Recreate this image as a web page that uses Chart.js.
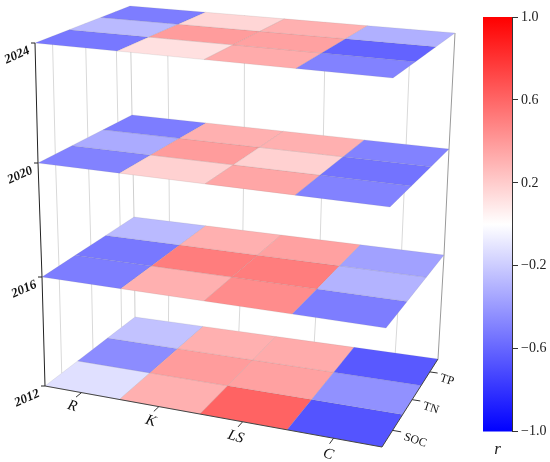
<!DOCTYPE html>
<html>
<head>
<meta charset="utf-8">
<script src="https://cdn.jsdelivr.net/npm/chart.js@4.4.0/dist/chart.umd.min.js"></script>
<style>
  html, body { margin: 0; padding: 0; background: #fff; }
  #wrap { position: relative; width: 550px; height: 462px; }
  #cubeBox { position: absolute; left: 0; top: 0; width: 470px; height: 462px; }
  #barBox { position: absolute; left: 470px; top: 0; width: 80px; height: 462px; }
</style>
</head>
<body>
<div id="wrap">
  <div id="cubeBox"><canvas id="cube"></canvas></div>
  <div id="barBox"><canvas id="bar"></canvas></div>
</div>
<script>
const factors = ['R', 'K', 'LS', 'C'];
const soilProps = ['SOC', 'TN', 'TP'];   // front row to back row
const years = ['2012', '2016', '2020', '2024'];

// correlation r, rows = SOC, TN, TP ; columns = R, K, LS, C
const r2012 = [
  [-0.12, 0.31, 0.61, -0.67],
  [-0.45, 0.39, 0.37, -0.43],
  [-0.24, 0.31, 0.33, -0.65]
];
const r2016 = [
  [-0.51, 0.31, 0.45, -0.51],
  [-0.53, 0.51, 0.51, -0.30],
  [-0.27, 0.31, 0.37, -0.37]
];
const r2020 = [
  [-0.49, 0.18, 0.35, -0.49],
  [-0.33, 0.39, 0.18, -0.55],
  [-0.51, 0.31, 0.31, -0.49]
];
const r2024 = [
  [-0.53, 0.12, 0.33, -0.49],
  [-0.27, 0.39, 0.37, -0.61],
  [-0.51, 0.16, 0.31, -0.31]
];
const planes = [r2012, r2016, r2020, r2024];
const cbTicks = [-1.0, -0.6, -0.2, 0.2, 0.6, 1.0];

// where each year plane sits on the page: front-left, front-right, back-right, back-left
const planeCorners = [
  [[45, 386], [382, 447], [438, 359], [135, 317]],
  [[42, 277], [386, 328], [444, 255], [134, 217]],
  [[38, 163], [390, 207], [449, 149], [132, 115]],
  [[35, 43], [393, 78], [455, 33], [130, 6]]
];

// perspective map of the unit square (u along factors, v along soil props) onto a plane
function squareToQuad(q) {
  const [[x0, y0], [x1, y1], [x2, y2], [x3, y3]] = q;
  const dx1 = x1 - x2, dx2 = x3 - x2, dx3 = x0 - x1 + x2 - x3;
  const dy1 = y1 - y2, dy2 = y3 - y2, dy3 = y0 - y1 + y2 - y3;
  const den = dx1 * dy2 - dx2 * dy1;
  const g = (dx3 * dy2 - dx2 * dy3) / den;
  const h = (dx1 * dy3 - dx3 * dy1) / den;
  const a = x1 - x0 + g * x1, b = x3 - x0 + h * x3, c = x0;
  const d = y1 - y0 + g * y1, e = y3 - y0 + h * y3, f = y0;
  return (u, v) => {
    const w = g * u + h * v + 1;
    return [(a * u + b * v + c) / w, (d * u + e * v + f) / w];
  };
}
const planeMaps = planeCorners.map(squareToQuad);

function bwr(r) {
  const c = Math.round(255 * (1 - Math.abs(r)));
  return r < 0 ? `rgb(${c},${c},255)` : `rgb(255,${c},${c})`;
}

const serif = '"Liberation Serif", "Times New Roman", serif';

const cubePlugin = {
  id: 'cube',
  afterDraw(chart) {
    const ctx = chart.ctx;
    const sx = chart.scales.x, sy = chart.scales.y;
    const at = (lvl, u, v) => {
      const p = planeMaps[lvl](u, v);
      return [sx.getPixelForValue(p[0]), sy.getPixelForValue(p[1])];
    };
    const line = (pts, color, width) => {
      ctx.beginPath();
      pts.forEach((p, i) => i ? ctx.lineTo(p[0], p[1]) : ctx.moveTo(p[0], p[1]));
      ctx.strokeStyle = color;
      ctx.lineWidth = width;
      ctx.stroke();
    };
    const levels = years.map((y, i) => i);
    const nu = factors.length, nv = soilProps.length;

    ctx.save();
    // wall grid lines
    factors.forEach((f, i) => {
      const u = (i + 0.5) / nu;
      line(levels.map(l => at(l, u, 1)), '#d9d9d9', 1);
    });
    soilProps.forEach((s, j) => {
      const v = (j + 0.5) / nv;
      line(levels.map(l => at(l, 0, v)), '#d9d9d9', 1);
    });
    line(levels.map(l => at(l, 0, 1)), '#cfcfcf', 1);
    line(levels.map(l => at(l, 1, 1)), '#9a9a9a', 1);

    // heat planes
    planes.forEach((grid, l) => {
      grid.forEach((row, j) => {
        row.forEach((r, i) => {
          const u0 = i / nu, u1 = (i + 1) / nu, v0 = j / nv, v1 = (j + 1) / nv;
          const pts = [at(l, u0, v0), at(l, u1, v0), at(l, u1, v1), at(l, u0, v1)];
          ctx.beginPath();
          pts.forEach((p, k) => k ? ctx.lineTo(p[0], p[1]) : ctx.moveTo(p[0], p[1]));
          ctx.closePath();
          ctx.fillStyle = bwr(r);
          ctx.fill();
          ctx.strokeStyle = 'rgba(110,110,110,0.18)';
          ctx.lineWidth = 0.7;
          ctx.stroke();
        });
      });
    });

    // vertical year axis
    line(levels.map(l => at(l, 0, 0)), '#222', 1);
    ctx.fillStyle = '#111';
    years.forEach((yr, l) => {
      const [x, y] = at(l, 0, 0);
      line([[x, y], [x - 4, y]], '#222', 1);
      ctx.save();
      ctx.translate(x - 6, y + 7);
      ctx.rotate(-24 * Math.PI / 180);
      ctx.font = `italic bold 13px ${serif}`;
      ctx.textAlign = 'right';
      ctx.textBaseline = 'middle';
      ctx.fillText(yr, 0, 0);
      ctx.restore();
    });

    // factor axis along the front edge of the bottom plane
    line([at(0, 0, 0), at(0, 1, 0)], '#444', 1);
    factors.forEach((f, i) => {
      const u = (i + 0.5) / nu;
      line([at(0, u, 0), at(0, u, -0.055)], '#333', 1);
      const [x, y] = at(0, u, -0.14);
      ctx.save();
      ctx.translate(x + 5, y + 2);
      ctx.rotate(18 * Math.PI / 180);
      ctx.font = `italic 15px ${serif}`;
      ctx.textAlign = 'center';
      ctx.textBaseline = 'middle';
      ctx.fillText(f, 0, 0);
      ctx.restore();
    });

    // soil property axis along the right edge of the bottom plane
    line([at(0, 1, 0), at(0, 1, 1)], '#444', 1);
    soilProps.forEach((s, j) => {
      const v = (j + 0.5) / nv;
      line([at(0, 1, v), at(0, 1.022, v)], '#333', 1);
      const [x, y] = at(0, 1.035, v);
      ctx.save();
      ctx.translate(x - 2, y + 4);
      ctx.rotate(18 * Math.PI / 180);
      ctx.font = `12px ${serif}`;
      ctx.textAlign = 'left';
      ctx.textBaseline = 'middle';
      ctx.fillText(s, 0, 0);
      ctx.restore();
    });
    ctx.restore();
  }
};

new Chart(document.getElementById('cube'), {
  type: 'scatter',
  data: { datasets: [] },
  options: {
    responsive: true,
    maintainAspectRatio: false,
    animation: false,
    layout: { padding: 0 },
    plugins: { legend: { display: false }, tooltip: { enabled: false } },
    scales: {
      x: { type: 'linear', min: 0, max: 470, display: false },
      y: { type: 'linear', min: 0, max: 462, reverse: true, display: false }
    }
  },
  plugins: [cubePlugin]
});

const fmtTick = v => (v < 0 ? '\u2212' : '') + Math.abs(v).toFixed(1);

new Chart(document.getElementById('bar'), {
  type: 'bar',
  data: {
    labels: [''],
    datasets: [{
      data: [[-1, 1]],
      borderWidth: 0,
      barPercentage: 1,
      categoryPercentage: 1,
      backgroundColor: (c) => {
        const area = c.chart.chartArea;
        if (!area) return 'rgba(0,0,0,0)';
        const g = c.chart.ctx.createLinearGradient(0, area.bottom, 0, area.top);
        g.addColorStop(0, 'rgb(0,0,255)');
        g.addColorStop(0.5, 'rgb(255,255,255)');
        g.addColorStop(1, 'rgb(255,0,0)');
        return g;
      }
    }]
  },
  options: {
    responsive: true,
    maintainAspectRatio: false,
    animation: false,
    layout: { padding: { left: 13, top: 17, bottom: 2, right: 0 } },
    plugins: { legend: { display: false }, tooltip: { enabled: false } },
    scales: {
      x: {
        grid: { display: false },
        border: { display: false },
        ticks: { display: false },
        title: { display: true, text: 'r', font: { family: serif, size: 17, style: 'italic' }, color: '#222', padding: { top: 0, bottom: 0 } }
      },
      y: {
        position: 'right',
        min: -1,
        max: 1,
        afterBuildTicks: (s) => { s.ticks = cbTicks.map(v => ({ value: v })); },
        afterFit: (s) => { s.width = 38; },
        ticks: { callback: fmtTick, font: { family: serif, size: 14 }, color: '#222', padding: 3 },
        grid: { drawOnChartArea: false, tickLength: 6, color: '#333' },
        border: { display: true, color: '#333' }
      }
    }
  }
});
</script>
</body>
</html>
